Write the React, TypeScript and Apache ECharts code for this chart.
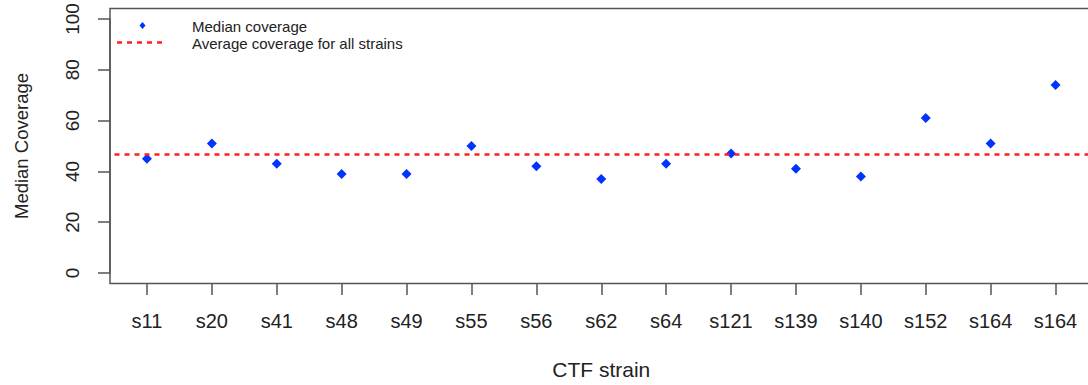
import React, { useEffect, useRef } from "react";
import * as echarts from "echarts";

const categories = ["s11", "s20", "s41", "s48", "s49", "s55", "s56", "s62", "s64", "s121", "s139", "s140", "s152", "s164", "s164"];
const medianCoverage = [45, 51, 43, 39, 39, 50, 42, 37, 43, 47, 41, 38, 61, 51, 74];
const averageCoverage = 46.7;
const yMin = 0;
const yMax = 100;
const yInterval = 20;
const legendLabels = ["Median coverage", "Average coverage for all strains"];

const FONT = "'Liberation Sans', Arial, Helvetica, sans-serif";
const TEXT = "#222";
const BLUE = "#0033ff";
const RED = "#ff2020";

export default function App() {
  const ref = useRef<HTMLDivElement>(null);
  useEffect(() => {
    document.body.style.margin = "0";
    if (!ref.current) return;
    const chart = echarts.init(ref.current, null, { renderer: "svg" });
    chart.setOption({
      animation: false,
      backgroundColor: "#fff",
      grid: {
        left: 114.5,
        right: -1.5,
        top: 19,
        bottom: 112,
        containLabel: false,
      },
      xAxis: {
        type: "category",
        data: categories,
        boundaryGap: true,
        offset: 10,
        name: "CTF strain",
        nameLocation: "middle",
        nameGap: 76,
        nameTextStyle: { fontFamily: FONT, fontSize: 21, color: TEXT },
        axisLine: { show: false, onZero: false },
        axisTick: { show: true, alignWithLabel: true, length: 12, lineStyle: { color: "#555", width: 1.5 } },
        axisLabel: { fontFamily: FONT, fontSize: 20, color: TEXT, margin: 28, interval: 0 },
        splitLine: { show: false },
      },
      yAxis: {
        type: "value",
        min: yMin,
        max: yMax,
        interval: yInterval,
        offset: 4.5,
        name: "Median Coverage",
        nameLocation: "middle",
        nameGap: 79,
        nameTextStyle: { fontFamily: FONT, fontSize: 18.5, color: TEXT },
        axisLine: { show: true, lineStyle: { color: "#555", width: 1.5 } },
        axisTick: { show: true, length: 12, lineStyle: { color: "#555", width: 1.5 } },
        axisLabel: { fontFamily: FONT, fontSize: 19, color: TEXT, rotate: 90, margin: 28 },
        splitLine: { show: false },
      },
      series: [
        {
          name: legendLabels[0],
          type: "scatter",
          data: medianCoverage.map((v, i) => [i, v]),
          symbol: "diamond",
          symbolSize: [10, 10],
          itemStyle: { color: BLUE, opacity: 1 },
          markLine: {
            silent: true,
            symbol: ["none", "none"],
            label: { show: false },
            lineStyle: { color: RED, width: 2.5, type: [5, 5], opacity: 1 },
            data: [{ yAxis: averageCoverage, name: legendLabels[1] }],
          },
        },
      ],
      graphic: [
        {
          type: "rect",
          shape: { x: 110, y: 8.5, width: 1000, height: 275 },
          style: { fill: "none", stroke: "#555", lineWidth: 1.5 },
          silent: true,
          z: 10,
        },
        {
          type: "polygon",
          shape: { points: [[142.5, 22], [145.5, 25.5], [142.5, 29], [139.5, 25.5]] },
          style: { fill: BLUE },
        },
        {
          type: "text",
          x: 192,
          y: 26.5,
          style: { text: legendLabels[0], fontFamily: FONT, fontSize: 15, fill: TEXT, verticalAlign: "middle" },
        },
        {
          type: "line",
          shape: { x1: 117, y1: 42.5, x2: 163, y2: 42.5 },
          style: { stroke: RED, lineWidth: 2.5, lineDash: [5, 5] },
        },
        {
          type: "text",
          x: 192,
          y: 43,
          style: { text: legendLabels[1], fontFamily: FONT, fontSize: 15, fill: TEXT, verticalAlign: "middle" },
        },
      ],
    });
    return () => chart.dispose();
  }, []);
  return <div ref={ref} style={{ width: 1088, height: 385 }} />;
}
